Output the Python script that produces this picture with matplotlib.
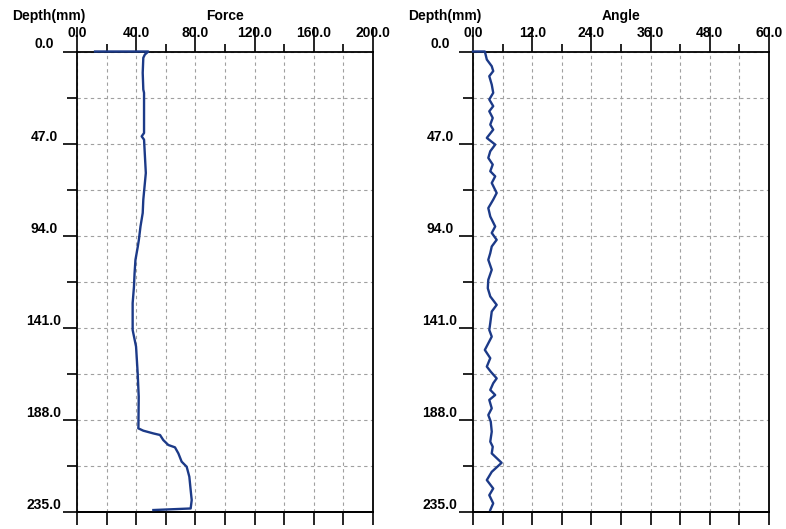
import matplotlib
matplotlib.use("Agg")
import matplotlib.pyplot as plt
import numpy as np

plt.rcParams['font.family'] = ['Liberation Sans', 'DejaVu Sans']
plt.rcParams['font.weight'] = 'bold'

# depth (mm) vs force
depth_force = [0, 0, 1.5, 3.2, 10.9, 19.4, 21.1, 23.7, 41.6, 43.3, 45.0, 62.0,
               75.6, 82.4, 89.3, 96.1, 99.5, 106.3, 113.1, 119.9, 128.4, 142.1,
               150.6, 164.2, 176.1, 191.5, 192.3, 193.5, 194.9, 195.7, 198.3,
               200.8, 202.0, 205.1, 209.3, 211.9, 217.0, 223.8, 228.9, 233.2, 234.0]
force = [12.2, 48.2, 45.9, 44.8, 44.4, 44.8, 45.3, 45.3, 45.3, 43.7, 45.3, 46.5,
         44.8, 44.4, 42.9, 41.8, 41.1, 39.5, 38.9, 38.5, 37.6, 37.6,
         39.9, 41.0, 41.7, 41.5, 41.4, 44.8, 51.6, 56.1, 58.3,
         61.7, 66.2, 68.5, 70.7, 74.1, 75.9, 76.8, 77.5, 76.8, 51.6]

# depth (mm) vs angle, right panel
depth_angle = [0, 0, 4.1, 7.5, 10.0, 12.6, 16.9, 21.1, 24.5, 27.9, 30.5, 33.9,
               37.3, 39.9, 44.1, 47.5, 50.9, 54.3, 57.7, 61.1, 63.7, 67.1, 72.2,
               75.6, 79.9, 84.2, 89.3, 92.6, 96.1, 99.5, 102.9, 106.3, 111.4,
               116.5, 120.8, 125.0, 129.3, 132.7, 138.6, 142.1, 145.5, 152.3,
               156.5, 160.8, 163.4, 166.8, 169.3, 172.7, 175.3, 177.8, 182.1,
               185.5, 188.9, 194.0, 199.1, 201.7, 205.1, 209.9, 214.5, 218.7,
               223.0, 226.4, 230.6, 234.0]
angle = [0, 2.4, 2.8, 3.8, 4.1, 3.3, 3.8, 4.1, 3.3, 4.1, 3.3, 4.0,
         3.5, 4.1, 2.8, 4.5, 3.5, 3.1, 4.0, 3.5, 4.5, 3.8, 4.8,
         4.1, 3.1, 3.5, 4.5, 3.8, 4.8, 3.8, 3.5, 3.1, 3.8,
         3.1, 3.0, 3.5, 4.8, 3.8, 3.5, 3.3, 3.8, 2.4,
         3.5, 2.8, 3.6, 4.8, 4.1, 3.5, 4.5, 3.3, 3.8,
         3.1, 3.6, 3.8, 3.5, 4.0, 3.8, 5.8, 3.8, 2.8,
         4.1, 3.3, 4.1, 3.5]

depth_max = 235.0
depth_ticks = [0.0, 47.0, 94.0, 141.0, 188.0, 235.0]
depth_minor = [23.5, 70.5, 117.5, 164.5, 211.5]

W, H = 786, 529
fig = plt.figure(figsize=(W / 100, H / 100), dpi=100)

line_col = '#1c3a88'
grid_col = '#a0a0a0'


def panel(left_px, x, y, xmax, xstep, title):
    top, bottom = 51.5, 512.0
    ax = fig.add_axes([left_px / W, 1 - bottom / H, 296 / W, (bottom - top) / H])
    ax.plot(x, y, color=line_col, lw=1.7, solid_joinstyle='round',
            zorder=4, clip_on=False)
    ax.set_xlim(0, xmax)
    ax.set_ylim(depth_max, 0)

    ax.set_xticks(np.arange(0, xmax + 0.1, 2 * xstep))
    ax.set_xticks(np.arange(xstep, xmax, 2 * xstep), minor=True)
    ax.set_xticklabels(['%.1f' % v for v in np.arange(0, xmax + 0.1, 2 * xstep)])
    ax.set_yticks(depth_ticks)
    ax.set_yticks(depth_minor, minor=True)
    ax.set_yticklabels(['%.1f' % v for v in depth_ticks])

    ax.xaxis.tick_top()
    ax.tick_params(axis='x', which='major', top=True, bottom=False, length=18,
                   width=1.2, pad=-10, labelsize=10, direction='out')
    ax.tick_params(axis='x', which='minor', top=True, bottom=False, length=5.8,
                   width=1.2, direction='out')
    ax.tick_params(axis='y', which='major', left=True, right=False, length=10,
                   width=1.2, pad=13.7, labelsize=10, direction='out')
    ax.tick_params(axis='y', which='minor', left=True, right=False, length=7.2,
                   width=1.2, direction='out')
    for lbl in ax.get_yticklabels():
        lbl.set_ha('center')
        lbl.set_va('bottom')
    for lbl in ax.get_xticklabels() + ax.get_yticklabels():
        lbl.set_fontweight('bold')

    # bottom ticks without labels
    sec = ax.secondary_xaxis('bottom')
    sec.set_xticks(np.arange(0, xmax + 0.1, xstep))
    sec.tick_params(length=9.4, width=1.2, labelbottom=False)
    sec.spines['bottom'].set_linewidth(1.3)

    ax.grid(which='both', linestyle=(0, (3, 3)), color=grid_col, lw=0.8)
    for s in ax.spines.values():
        s.set_linewidth(1.3)
        s.set_color('black')

    ax.text(-65 / 296, 1 + 35.5 / 460.5, 'Depth(mm)', transform=ax.transAxes,
            ha='left', va='center', fontsize=10, fontweight='bold')
    ax.text(0.5, 1 + 35.5 / 460.5, title, transform=ax.transAxes,
            ha='center', va='center', fontsize=10, fontweight='bold')
    return ax


panel(77, force, depth_force, 200, 20, 'Force')
panel(473, angle, depth_angle, 60, 6, 'Angle')

fig.savefig('out.png', dpi=100)
